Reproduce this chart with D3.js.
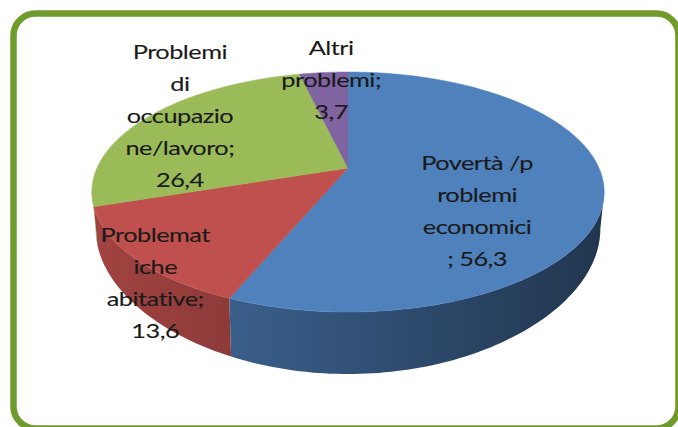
<!DOCTYPE html>
<html>
<head>
<meta charset="utf-8">
<script src="https://cdn.jsdelivr.net/npm/d3@7"></script>
<style>
  html, body { margin: 0; padding: 0; background: #fff; }
  svg { display: block; }
</style>
</head>
<body>
<div id="chart"></div>
<script>
// data
const categories = ["Povertà /problemi economici", "Problematiche abitative",
                    "Problemi di occupazione/lavoro", "Altri problemi"];
const values = [56.3, 13.6, 26.4, 3.7];
// labels as the spreadsheet wrapped them
const labelLines = [
    ["Povertà /p", "roblemi", "economici", "; 56,3"],
    ["Problemat", "iche", "abitative;", "13,6"],
    ["Problemi", "di", "occupazio", "ne/lavoro;", "26,4"],
    ["Altri", "problemi;", "3,7"]
];
const colors = ["#4F81BD", "#C0504D", "#9BBB59", "#8064A2"];

const W = 678, H = 427;
const svg = d3.select("#chart").append("svg").attr("width", W).attr("height", H);

// rounded green frame
svg.append("rect")
    .attr("x", 13.5).attr("y", 13.5)
    .attr("width", 665).attr("height", 415)
    .attr("rx", 22).attr("ry", 22)
    .attr("fill", "#fff")
    .attr("stroke", "#6F9B2C").attr("stroke-width", 6.5);

// fake 3D projection of the disc (angle clockwise from 12 o'clock)
const cx = 348, cy = 168, A = 251, B = 115.2, k = 0.2;
const E = 33.5, kd = 0.46;   // thickness of the wall

function topPt(t, r) {
    r = (r === undefined) ? 1 : r;
    const d = 1 + k * r * Math.cos(t);
    return [cx + A * r * Math.sin(t) / d, cy - B * r * Math.cos(t) / d];
}
function botPt(t) {
    const d = 1 + k * Math.cos(t);
    const dep = E / (1 + kd * Math.cos(t));
    return [cx + 0.985 * A * Math.sin(t) / d, cy - B * Math.cos(t) / d + dep];
}
function arcPts(f, a, b) {
    const n = Math.max(2, Math.ceil(Math.abs(b - a) / 0.02));
    return d3.range(n + 1).map(i => f(a + (b - a) * i / n));
}

const pie = d3.pie().sort(null).startAngle(0).endAngle(2 * Math.PI);
const arcs = pie(values);

function shade(c, f) {
    const q = d3.rgb(c);
    return d3.rgb(q.r * f, q.g * f, q.b * f).formatHex();
}

const defs = svg.append("defs");
arcs.forEach((a, i) => {
    const g = defs.append("linearGradient")
        .attr("id", "side" + i)
        .attr("gradientUnits", "userSpaceOnUse")
        .attr("x1", cx - A).attr("x2", cx + A).attr("y1", 0).attr("y2", 0);
    g.append("stop").attr("offset", 0).attr("stop-color", shade(colors[i], 0.84));
    g.append("stop").attr("offset", 0.35).attr("stop-color", shade(colors[i], 0.7));
    g.append("stop").attr("offset", 1).attr("stop-color", shade(colors[i], 0.42));
});

// visible part of the wall
const visA = Math.acos(-k), visB = 2 * Math.PI - visA;
const line = d3.line();

const sides = svg.append("g");
arcs.forEach((a, i) => {
    const s = Math.max(a.startAngle, visA), e = Math.min(a.endAngle, visB);
    if (e <= s) return;
    const pts = arcPts(topPt, s, e).concat(arcPts(botPt, e, s));
    sides.append("path")
        .attr("d", line(pts) + "Z")
        .attr("fill", "url(#side" + i + ")");
});

const tops = svg.append("g");
arcs.forEach((a, i) => {
    const pts = [[cx, cy]].concat(arcPts(t => topPt(t), a.startAngle, a.endAngle));
    tops.append("path")
        .attr("d", line(pts) + "Z")
        .attr("fill", colors[i])
        .attr("stroke", colors[i]).attr("stroke-width", 0.5);
});

// label placement: radius on the disc + vertical nudge
const labelPlace = [{r: 0.514, dy: 31.6}, {r: 0.917, dy: 33}, {r: 0.829, dy: -9}, {r: 0.655, dy: -21.6}];
const lineH = 32, cap = 14;
const labels = svg.append("g")
    .attr("font-family", "Lato, 'Open Sans', sans-serif")
    .attr("font-size", 19.5)
    .attr("fill", "#1a1a1a")
    .attr("stroke", "#1a1a1a").attr("stroke-width", 0.1);

arcs.forEach((a, i) => {
    const mid = (a.startAngle + a.endAngle) / 2;
    const p = topPt(mid, labelPlace[i].r);
    const lines = labelLines[i];
    const y0 = p[1] + labelPlace[i].dy - (lines.length - 1) * lineH / 2 + cap / 2;
    lines.forEach((s, j) => {
        labels.append("text")
            .attr("transform", "translate(" + p[0] + "," + (y0 + j * lineH) + ") scale(1.3,1)")
            .attr("text-anchor", "middle")
            .attr("letter-spacing", -0.4)
            .text(s);
    });
});
</script>
</body>
</html>
